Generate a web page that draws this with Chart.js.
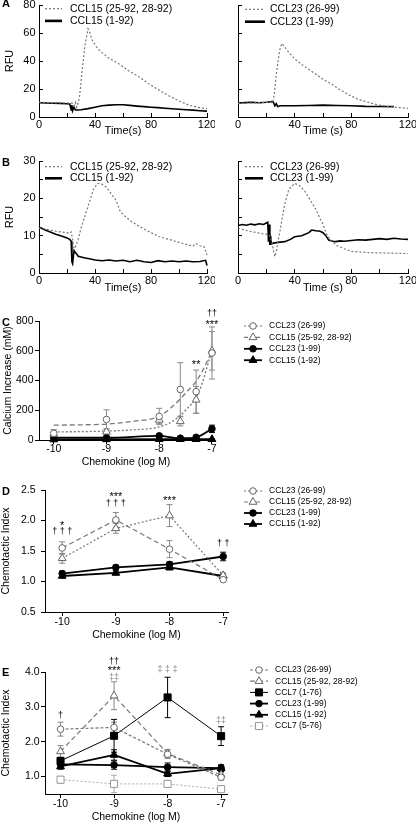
<!DOCTYPE html>
<html lang="en">
<head>
<meta charset="UTF-8">
<script src="https://cdn.jsdelivr.net/npm/chart.js"></script>
<style>
  body { margin: 0; background: #fff; }
  .fig { position: relative; width: 416px; height: 824px; overflow: hidden; font-family: "Liberation Sans", Arial, sans-serif; }
  .fig canvas { position: absolute; }
  .tag { position: absolute; left: 2px; font-size: 11px; font-weight: bold; line-height: 11px; }
</style>
</head>
<body>
<div class="fig">
  <canvas id="a1"></canvas><canvas id="a2"></canvas>
  <canvas id="b1"></canvas><canvas id="b2"></canvas>
  <canvas id="c"></canvas><canvas id="d"></canvas><canvas id="e"></canvas>
  <div class="tag" style="top:-2px">A</div>
  <div class="tag" style="top:157px">B</div>
  <div class="tag" style="top:317px">C</div>
  <div class="tag" style="top:486px">D</div>
  <div class="tag" style="top:667px">E</div>
</div>
<script>
// ---- calcium traces (A, B): time in s, RFU
const timeTicks = [0, 20, 40, 60, 80, 100, 120];
const timeLabels = [0, 40, 80, 120];
const rfuTicksA = [0, 20, 40, 60, 80];
const rfuTicksB = [0, 5, 10, 15, 20, 25, 30];
const rfuLabelsB = [0, 10, 20, 30];

// A left, CCL15
const tA15trunc = [0, 5, 10, 15, 20, 24, 25, 26, 27, 28, 29, 30, 31, 33, 35, 36, 38, 41, 45, 50, 57, 64, 71, 78, 86, 93, 100, 107, 115, 120];
const vA15trunc = [10.5, 10.3, 10.1, 10, 10, 9.8, 8, 10.5, 7, 10, 15, 25, 35, 52, 63, 61, 55, 50, 46, 42, 38, 33, 29, 24, 19, 15, 11.5, 8.5, 6.5, 6];
const tA15full = [0, 5, 10, 15, 20, 22, 23, 23.5, 24, 25, 26, 28, 30, 35, 40, 45, 50, 55, 60, 65, 70, 75, 80, 85, 90, 95, 100, 105, 110, 115, 120];
const vA15full = [10.2, 10, 9.8, 9.7, 9.5, 9.3, 5, 8.5, 4.5, 7, 5, 5, 5.2, 6, 7, 8, 8.5, 8.8, 8.8, 8.3, 7.8, 7.4, 7, 6.7, 6.3, 5.9, 5.5, 5.2, 4.9, 4.5, 4.2];
// A right, CCL23
const tA23trunc = [0, 5, 10, 15, 20, 23, 24, 25, 26, 27, 28, 29, 30, 31, 33, 36, 40, 45, 50, 55, 60, 66, 72, 78, 85, 92, 99, 106, 113, 120];
const vA23trunc = [9.8, 10, 10, 10.2, 10.5, 10.8, 10, 12, 20, 30, 38, 45, 50, 52.5, 50, 46, 41.5, 37.5, 34, 30.5, 27, 23.5, 19.5, 16, 12.5, 10.5, 8.6, 7.5, 6.8, 6.2];
const tA23full = [0, 5, 10, 15, 20, 24, 25, 26, 27, 28, 30, 35, 40, 50, 60, 70, 80, 90, 100, 110];
const vA23full = [10, 10.3, 10.5, 10.2, 10.5, 11, 10.5, 8, 9.5, 7.5, 8, 8, 8, 8.2, 8.5, 8.2, 8, 7.6, 7.5, 7.4];
// B left, CCL15
const tB15trunc = [0, 4, 8, 12, 16, 20, 22, 23, 24, 25, 26, 27, 28, 30, 33, 36, 39, 42, 45, 48, 51, 55, 58, 62, 66, 72, 79, 86, 93, 100, 106, 110, 112, 115, 118, 120];
const vB15trunc = [12, 11.8, 11.5, 11.2, 11, 10.8, 10.6, 11, 9, 6.5, 7, 8, 9, 12, 15.5, 19, 22.5, 24, 23.8, 23, 21.5, 19.5, 16.5, 15, 13.8, 12.4, 11, 9.7, 9, 8.2, 7.6, 7.2, 7.9, 7.3, 7, 4.8];
const tB15full = [0, 4, 8, 12, 16, 20, 22, 23, 23.5, 24, 25, 26, 27, 28, 30, 33, 36, 40, 45, 50, 55, 60, 65, 70, 75, 80, 85, 90, 95, 100, 105, 110, 115, 119, 120];
const vB15full = [12.3, 11.6, 11, 10.4, 9.9, 9.4, 9, 8.5, 3, 2.5, 6, 5.5, 5, 4.5, 4.3, 4, 3.8, 3.5, 3.3, 3.5, 3.2, 3.4, 3, 3.4, 3, 2.8, 3.3, 3, 3.2, 3, 3.2, 3, 3.1, 3.4, 2];
// B right, CCL23
const tB23trunc = [0, 4, 8, 12, 16, 20, 22, 24, 25, 26, 27, 28, 30, 33, 36, 40, 43, 47, 51, 55, 58, 60, 63, 66, 70, 75, 80, 90, 100, 110, 120];
const vB23trunc = [12, 11.6, 11.2, 10.9, 10.6, 10.4, 10.2, 8, 6, 4.4, 5.5, 8, 12, 18.5, 22.5, 24, 23.5, 22, 19.5, 17, 14.5, 13, 10, 8.5, 7.3, 6.5, 5.8, 5.5, 5.4, 5.3, 5.2];
const tB23full = [0, 3, 6, 9, 12, 15, 18, 20, 21, 21.5, 22, 22.5, 23, 23.5, 25, 28, 33, 37, 40, 45, 50, 52, 55, 58, 60, 62, 64, 67, 69, 72, 75, 80, 85, 90, 95, 100, 105, 110, 115, 120];
const vB23full = [12.7, 13, 12.8, 13.1, 12.9, 13.2, 13, 13.4, 13.6, 8.4, 13, 7.5, 10, 7.8, 8, 8.2, 8.4, 9, 9.7, 10, 10.8, 11.5, 11.3, 11.2, 10.8, 10, 8.8, 8.5, 8.4, 8.6, 8.5, 8.7, 8.9, 8.8, 9, 9.2, 9, 9.3, 9.1, 9];

// ---- dose response (C, D, E): chemokine in log M
const logTicks = [-10, -9, -8, -7];
const calciumTicks = [0, 200, 400, 600, 800];
const ciTicksD = [0.5, 1, 1.5, 2, 2.5];
const ciTicksE = [1, 2, 3, 4];

const cX = [-10, -9, -8, -7.6, -7.3, -7];
const cCCL23trunc = [45, 138, 158, 340, 325, 585];
const cCCL23truncErr = [25, 65, 55, 180, 145, 175];
const cCCL15trunc = [40, 55, 135, 125, 270, 600];
const cCCL15truncErr = [12, 20, 25, 30, 90, 130];
const cCCL23full = [15, 15, 28, 12, 18, 75];
const cCCL23fullErr = [8, 8, 8, 8, 10, 25];
const cCCL15full = [3, 4, 5, 5, 5, 5];
const cCCL15fullErr = [3, 3, 3, 3, 3, 3];
const fitX = [-10, -9.5, -9, -8.5, -8, -7.75, -7.5, -7.25, -7];
const fitCCL23trunc = [100, 102, 107, 125, 160, 225, 315, 420, 595];
const fitCCL15trunc = [55, 56, 60, 68, 88, 125, 200, 320, 600];
const cMarks = [
  { x: -7.3, y: 515, t: '**' },
  { x: -7, y: 790, t: '***' },
  { x: -7, y: 850, t: '††', d: 1 }
];

const dX = [-10, -9, -8, -7];
const dCCL23trunc = [1.55, 2.01, 1.53, 1.03];
const dCCL23truncErr = [0.1, 0.12, 0.14, 0.03];
const dCCL15trunc = [1.38, 1.87, 2.08, 1.10];
const dCCL15truncErr = [0.08, 0.08, 0.18, 0.04];
const dCCL23full = [1.13, 1.23, 1.28, 1.41];
const dCCL23fullErr = [0.04, 0.04, 0.04, 0.07];
const dCCL15full = [1.09, 1.14, 1.23, 1.09];
const dCCL15fullErr = [0.03, 0.03, 0.04, 0.03];
const dMarks = [
  { x: -10, y: 1.95, t: '*' },
  { x: -10, y: 1.82, t: '† † †', d: 1 },
  { x: -9, y: 2.42, t: '***' },
  { x: -9, y: 2.28, t: '† † †', d: 1 },
  { x: -8, y: 2.36, t: '***' },
  { x: -7, y: 1.62, t: '† †', d: 1 }
];

const eX = [-10, -9, -8, -7];
const eCCL23trunc = [2.36, 2.41, 1.64, 0.98];
const eCCL23truncErr = [0.2, 0.15, 0.12, 0.08];
const eCCL15trunc = [1.72, 3.32, 1.66, 1.05];
const eCCL15truncErr = [0.17, 0.4, 0.12, 0.08];
const eCCL7full = [1.45, 2.17, 3.27, 2.16];
const eCCL7fullErr = [0.1, 0.47, 0.58, 0.27];
const eCCL23full = [1.35, 1.33, 1.27, 1.24];
const eCCL23fullErr = [0.1, 0.12, 0.12, 0.1];
const eCCL15full = [1.29, 1.62, 1.08, 1.24];
const eCCL15fullErr = [0.08, 0.15, 0.08, 0.08];
const eCCL7trunc = [0.91, 0.79, 0.79, 0.64];
const eCCL7truncErr = [0.1, 0.25, 0.1, 0.05];
const eMarks = [
  { x: -10, y: 2.76, t: '†', d: 1 },
  { x: -9, y: 4.29, t: '††', d: 1 },
  { x: -9, y: 4.08, t: '***' },
  { x: -9, y: 3.84, t: '‡‡', d: 1, g: 1 },
  { x: -8, y: 4.08, t: '‡ ‡ ‡', d: 1, g: 1 },
  { x: -7, y: 2.6, t: '‡‡', d: 1, g: 1 }
];

Chart.defaults.font.family = '"Liberation Sans", Arial, sans-serif';
Chart.defaults.color = '#000';

const pts = (xs, ys) => xs.map((x, i) => ({ x, y: ys[i] }));

function drawMarker(ctx, shape, r, x, y, fill, edge) {
  ctx.beginPath();
  if (shape === 'circle') {
    ctx.arc(x, y, r, 0, Math.PI * 2);
  } else if (shape === 'triangle') {
    ctx.moveTo(x, y - r);
    ctx.lineTo(x + r * 0.866, y + r * 0.5);
    ctx.lineTo(x - r * 0.866, y + r * 0.5);
    ctx.closePath();
  } else {
    const s = r * Math.SQRT1_2;
    ctx.rect(x - s, y - s, 2 * s, 2 * s);
  }
  ctx.fillStyle = fill;
  ctx.fill();
  ctx.strokeStyle = edge;
  ctx.lineWidth = 1;
  ctx.stroke();
}

// vertical SEM bars, drawn under the markers
const errorBars = {
  id: 'errorBars',
  beforeDatasetsDraw(chart) {
    const ctx = chart.ctx, xs = chart.scales.x, ys = chart.scales.y;
    chart.data.datasets.forEach(d => {
      if (!d.errs) return;
      ctx.save();
      ctx.strokeStyle = d.errColor;
      ctx.lineWidth = 1;
      d.data.forEach((p, i) => {
        const e = d.errs[i];
        const px = xs.getPixelForValue(p.x);
        const top = ys.getPixelForValue(p.y + e), bot = ys.getPixelForValue(p.y - e);
        ctx.beginPath();
        ctx.moveTo(px, top); ctx.lineTo(px, bot);
        ctx.moveTo(px - 3, top); ctx.lineTo(px + 3, top);
        ctx.moveTo(px - 3, bot); ctx.lineTo(px + 3, bot);
        ctx.stroke();
      });
      ctx.restore();
    });
  }
};

function lineLegend(cfg) {
  return {
    id: 'lineLegend',
    afterDraw(chart) {
      const ctx = chart.ctx;
      ctx.save();
      ctx.font = cfg.size + 'px "Liberation Sans", Arial, sans-serif';
      ctx.textBaseline = 'middle';
      chart.data.datasets.filter(d => d.label).forEach((d, i) => {
        const y = cfg.y + i * cfg.dy;
        ctx.beginPath();
        ctx.setLineDash(d.legendDash || d.borderDash || []);
        ctx.strokeStyle = d.borderColor;
        ctx.lineWidth = d.legendWidth || d.borderWidth;
        ctx.moveTo(cfg.x, y);
        ctx.lineTo(cfg.x + cfg.w, y);
        ctx.stroke();
        ctx.setLineDash([]);
        if (d.pointRadius) drawMarker(ctx, d.pointStyle, d.pointRadius, cfg.x + cfg.w / 2, y, d.pointBackgroundColor, d.pointBorderColor);
        ctx.fillStyle = '#000';
        ctx.fillText(d.label, cfg.tx, y);
      });
      ctx.restore();
    }
  };
}

// significance symbols placed on the data scales
function sigMarks(items) {
  return {
    id: 'sigMarks',
    afterDraw(chart) {
      const ctx = chart.ctx, xs = chart.scales.x, ys = chart.scales.y;
      ctx.save();
      ctx.textAlign = 'center';
      ctx.textBaseline = 'middle';
      items.forEach(m => {
        ctx.font = (m.d ? 9 : 11) + 'px "Liberation Sans", Arial, sans-serif';
        ctx.fillStyle = m.g ? '#888' : '#000';
        ctx.fillText(m.t, xs.getPixelForValue(m.x), ys.getPixelForValue(m.y) + (m.d ? 0 : 2));
      });
      ctx.restore();
    }
  };
}

function axis(dir, o, size) {
  return {
    type: 'linear',
    position: dir === 'x' ? 'bottom' : 'left',
    min: o.min,
    max: o.max,
    border: { color: '#000', width: 1 },
    grid: { drawOnChartArea: false, color: '#000', tickLength: o.tick, tickWidth: 1 },
    ticks: {
      color: '#000', font: { size: o.fs }, padding: o.pad, autoSkip: false, maxRotation: 0, minRotation: 0,
      callback: v => (o.labels || []).includes(v) ? (o.fmt ? o.fmt(v) : String(v)) : ''
    },
    title: {
      display: !!o.title, text: o.title || '', color: '#000', font: { size: o.fs },
      padding: dir === 'x' ? { top: 0, bottom: o.tpad } : { top: o.tpad, bottom: 0 }
    },
    afterBuildTicks: s => { s.ticks = o.ticks.map(value => ({ value })); },
    afterFit: s => {
      if (dir === 'x') { s.height = size; s.paddingLeft = 0; s.paddingRight = 0; }
      else { s.width = size; s.paddingTop = 0; s.paddingBottom = 0; }
    }
  };
}

function makeChart(id, cv, area, datasets, xo, yo, legend, marks) {
  const el = document.getElementById(id);
  el.width = cv.w;
  el.height = cv.h;
  el.style.left = cv.left + 'px';
  el.style.top = cv.top + 'px';
  return new Chart(el, {
    type: 'line',
    data: { datasets },
    options: {
      responsive: false,
      animation: false,
      devicePixelRatio: 1,
      layout: { padding: { left: 0, top: area.t - cv.top, right: cv.left + cv.w - area.r, bottom: 0 } },
      scales: {
        x: axis('x', xo, cv.top + cv.h - area.b),
        y: axis('y', yo, area.l - cv.left)
      },
      plugins: { legend: { display: false }, tooltip: { enabled: false } }
    },
    plugins: [errorBars, lineLegend(legend), sigMarks(marks || [])]
  });
}

function trace(label, xs, ys, dotted) {
  return {
    label, data: pts(xs, ys), pointRadius: 0, tension: 0, clip: false,
    borderColor: dotted ? '#777' : '#000',
    borderWidth: dotted ? 1.2 : 1.6,
    borderDash: dotted ? [2, 2] : [],
    legendWidth: dotted ? 1.2 : 2.6
  };
}

const openCircle = { pointStyle: 'circle', pointRadius: 3.3, pointBackgroundColor: '#fff', pointBorderColor: '#666', borderColor: '#777', borderWidth: 1.2, errColor: '#888' };
const openTriangle = { pointStyle: 'triangle', pointRadius: 4.5, pointBackgroundColor: '#fff', pointBorderColor: '#666', borderColor: '#777', borderWidth: 1.2, errColor: '#888' };
const fullCircle = { pointStyle: 'circle', pointRadius: 3.3, pointBackgroundColor: '#000', pointBorderColor: '#000', borderColor: '#000', borderWidth: 1.8, errColor: '#000' };
const fullTriangle = { pointStyle: 'triangle', pointRadius: 4.5, pointBackgroundColor: '#000', pointBorderColor: '#000', borderColor: '#000', borderWidth: 1.8, errColor: '#000' };
const fullSquare = { pointStyle: 'rect', pointRadius: 5, pointBackgroundColor: '#000', pointBorderColor: '#000', borderColor: '#000', borderWidth: 1, errColor: '#000' };
const openSquare = { pointStyle: 'rect', pointRadius: 5, pointBackgroundColor: '#fff', pointBorderColor: '#999', borderColor: '#aaa', borderWidth: 1, errColor: '#aaa' };

function series(label, xs, ys, errs, style, more) {
  return Object.assign({ label, data: pts(xs, ys), errs, tension: 0, clip: false, pointBorderWidth: 1 }, style, more || {});
}

// ---- A
const timeX = (title) => ({ min: 0, max: 120, ticks: timeTicks, labels: timeLabels, tick: -4, pad: 5, fs: 11, title, tpad: 7.4 });
makeChart('a1', { left: 0, top: 0, w: 215, h: 145 }, { l: 39, r: 207, t: 5, b: 117 },
  [trace('CCL15 (25-92, 28-92)', tA15trunc, vA15trunc, true), trace('CCL15 (1-92)', tA15full, vA15full, false)],
  timeX('Time(s)'),
  { min: 0, max: 80, ticks: rfuTicksA, labels: rfuTicksA, tick: -4, pad: 7.5, fs: 11, title: 'RFU', tpad: 3.4 },
  { x: 45, w: 17, tx: 70, y: 8.7, dy: 12.2, size: 10.5 });
makeChart('a2', { left: 205, top: 0, w: 211, h: 145 }, { l: 238, r: 408, t: 5, b: 117 },
  [trace('CCL23 (26-99)', tA23trunc, vA23trunc, true), trace('CCL23 (1-99)', tA23full, vA23full, false)],
  timeX('Time (s)'),
  { min: 0, max: 80, ticks: rfuTicksA, labels: [], tick: -4, pad: 7.5, fs: 11 },
  { x: 40, w: 20, tx: 65, y: 9.3, dy: 12.4, size: 10.5 });

// ---- B
const timeXB = (title) => ({ min: 0, max: 120, ticks: timeTicks, labels: timeLabels, tick: -4, pad: 5.4, fs: 11, title, tpad: 5.4 });
makeChart('b1', { left: 0, top: 145, w: 215, h: 155 }, { l: 39, r: 207, t: 161, b: 273 },
  [trace('CCL15 (25-92, 28-92)', tB15trunc, vB15trunc, true), trace('CCL15 (1-92)', tB15full, vB15full, false)],
  timeXB('Time(s)'),
  { min: 0, max: 30, ticks: rfuTicksB, labels: rfuLabelsB, tick: -4, pad: 7.5, fs: 11, title: 'RFU', tpad: 3.4 },
  { x: 45, w: 17, tx: 70, y: 21.7, dy: 11.6, size: 10.5 });
makeChart('b2', { left: 205, top: 145, w: 211, h: 155 }, { l: 238, r: 408, t: 161, b: 273 },
  [trace('CCL23 (26-99)', tB23trunc, vB23trunc, true), trace('CCL23 (1-99)', tB23full, vB23full, false)],
  timeXB('Time (s)'),
  { min: 0, max: 30, ticks: rfuTicksB, labels: [], tick: -4, pad: 7.5, fs: 11 },
  { x: 40, w: 18, tx: 65, y: 21.7, dy: 11.6, size: 10.5 });

// ---- C
const logX = (min, max, pad, tpad) => ({ min, max, ticks: logTicks, labels: logTicks, tick: 4, pad, fs: 10.5, title: 'Chemokine (log M)', tpad });
makeChart('c', { left: 0, top: 300, w: 416, h: 170 }, { l: 39, r: 213, t: 321, b: 440 },
  [
    series('CCL23 (26-99)', cX, cCCL23trunc, cCCL23truncErr, openCircle, { showLine: false, legendDash: [2, 2] }),
    series('CCL15 (25-92, 28-92)', cX, cCCL15trunc, cCCL15truncErr, openTriangle, { showLine: false, legendDash: [4, 2] }),
    series('CCL23 (1-99)', cX, cCCL23full, cCCL23fullErr, fullCircle, { cubicInterpolationMode: 'monotone' }),
    series('CCL15 (1-92)', cX, cCCL15full, cCCL15fullErr, fullTriangle),
    { data: pts(fitX, fitCCL23trunc), borderColor: '#777', borderWidth: 1.3, borderDash: [5, 3], pointRadius: 0, cubicInterpolationMode: 'monotone', clip: false },
    { data: pts(fitX, fitCCL15trunc), borderColor: '#777', borderWidth: 1.3, borderDash: [2, 2], pointRadius: 0, cubicInterpolationMode: 'monotone', clip: false }
  ],
  logX(-10.28, -6.98, -1.3, 1.7),
  { min: 0, max: 800, ticks: calciumTicks, labels: calciumTicks, tick: 4, pad: 1.5, fs: 10.5, title: 'Calcium Increase (mM)', tpad: 1.7 },
  { x: 244, w: 18, tx: 269, y: 26, dy: 11.4, size: 8.5 }, cMarks);

// ---- D
makeChart('d', { left: 0, top: 470, w: 416, h: 172 }, { l: 45, r: 228, t: 490, b: 612 },
  [
    series('CCL23 (26-99)', dX, dCCL23trunc, dCCL23truncErr, openCircle, { borderDash: [5, 3], legendDash: [2, 2] }),
    series('CCL15 (25-92, 28-92)', dX, dCCL15trunc, dCCL15truncErr, openTriangle, { borderDash: [2, 2], legendDash: [4, 2] }),
    series('CCL23 (1-99)', dX, dCCL23full, dCCL23fullErr, fullCircle),
    series('CCL15 (1-92)', dX, dCCL15full, dCCL15fullErr, fullTriangle)
  ],
  logX(-10.32, -6.91, -0.3, 0.7),
  { min: 0.5, max: 2.5, ticks: ciTicksD, labels: ciTicksD, fmt: v => v.toFixed(1), tick: 4, pad: 5.5, fs: 10.5, title: 'Chemotactic Index', tpad: 0 },
  { x: 244, w: 18, tx: 269, y: 21, dy: 11, size: 8.5 }, dMarks);

// ---- E
makeChart('e', { left: 0, top: 645, w: 416, h: 179 }, { l: 45, r: 227, t: 672, b: 794 },
  [
    series('CCL23 (26-99)', eX, eCCL23trunc, eCCL23truncErr, openCircle, { borderDash: [3, 2] }),
    series('CCL15 (25-92, 28-92)', eX, eCCL15trunc, eCCL15truncErr, openTriangle, { borderDash: [5, 3] }),
    series('CCL7 (1-76)', eX, eCCL7full, eCCL7fullErr, fullSquare),
    series('CCL23 (1-99)', eX, eCCL23full, eCCL23fullErr, fullCircle),
    series('CCL15 (1-92)', eX, eCCL15full, eCCL15fullErr, fullTriangle),
    series('CCL7 (5-76)', eX, eCCL7trunc, eCCL7truncErr, openSquare, { borderDash: [2, 2] })
  ],
  logX(-10.29, -6.89, -0.3, 0.7),
  { min: 0.5, max: 4, ticks: ciTicksE, labels: ciTicksE, fmt: v => v.toFixed(1), tick: 4, pad: 1.5, fs: 10.5, title: 'Chemotactic Index', tpad: 0 },
  { x: 250, w: 18, tx: 275, y: 25, dy: 11.2, size: 8.5 }, eMarks);
</script>
</body>
</html>
